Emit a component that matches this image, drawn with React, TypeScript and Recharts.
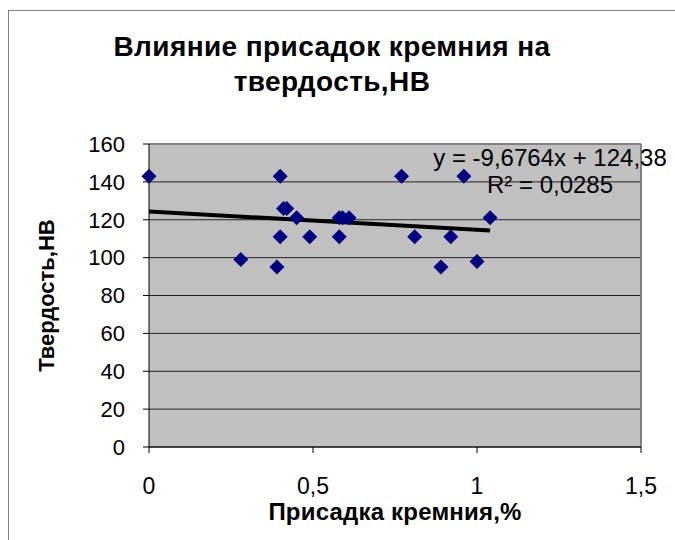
import React from "react";
import {
  CartesianGrid,
  ReferenceLine,
  Scatter,
  ScatterChart,
  XAxis,
  YAxis,
} from "recharts";

// Silicon addition, % and measured Brinell hardness for each sample
const siliconPct = [0, 0.28, 0.39, 0.4, 0.4, 0.41, 0.42, 0.45, 0.49, 0.58, 0.58, 0.59, 0.61, 0.77, 0.81, 0.89, 0.92, 0.96, 1.0, 1.04];
const hardnessHB = [143, 99, 95, 143, 111, 126, 126, 121, 111, 111, 121, 121, 121, 143, 111, 95, 111, 143, 98, 121];

const xTicks = [0, 0.5, 1, 1.5];
const yTicks = [0, 20, 40, 60, 80, 100, 120, 140, 160];

// linear trend as printed on the chart
const trendSlope = -9.6764;
const trendIntercept = 124.38;
const trendR2 = 0.0285;

const titleLines = ["Влияние присадок кремния на", "твердость,НВ"];
const xTitle = "Присадка кремния,%";
const yTitle = "Твердость,НВ";

const FONT = "'Liberation Sans', Arial, sans-serif";

const points = siliconPct.map((x, i) => ({ x, y: hardnessHB[i] }));
const xMax = Math.max(...siliconPct);
const trendStart = { x: 0, y: trendIntercept + trendSlope * 0 };
const trendEnd = { x: xMax, y: trendIntercept + trendSlope * xMax };

const comma = (v: number, digits?: number) =>
  (digits === undefined ? String(v) : v.toFixed(digits)).replace(".", ",");

const Diamond = (props: any) => {
  const { cx, cy } = props;
  const r = 7.5;
  return (
    <polygon
      points={`${cx},${cy - r} ${cx + r},${cy} ${cx},${cy + r} ${cx - r},${cy}`}
      fill="#000080"
    />
  );
};

const App = () => {
  return (
    <div
      style={{
        position: "fixed",
        left: 0,
        top: 0,
        width: 675,
        height: 540,
        overflow: "hidden",
        background: "#fff",
        fontFamily: FONT,
      }}
    >
      <div
        style={{
          position: "absolute",
          left: 8,
          top: 10,
          width: 700,
          height: 600,
          borderLeft: "1px solid #808080",
          borderTop: "1px solid #808080",
        }}
      />
      <div style={{ position: "absolute", left: 0, top: 0 }}>
        <ScatterChart
          width={675}
          height={540}
          margin={{ top: 144, right: 34, bottom: 0, left: 0 }}
        >
          <CartesianGrid vertical={false} fill="#C0C0C0" stroke="#222" />
          <XAxis
            type="number"
            dataKey="x"
            domain={[0, 1.5]}
            ticks={xTicks}
            height={93}
            tickSize={6}
            tickMargin={25}
            tickFormatter={(v: number) => comma(v)}
            axisLine={{ stroke: "#000" }}
            tickLine={{ stroke: "#000" }}
            tick={{ fontSize: 23, fill: "#000", fontFamily: FONT }}
            label={{
              content: ({ viewBox }: any) => (
                <text
                  x={viewBox.x + viewBox.width / 2}
                  y={viewBox.y + 73}
                  textAnchor="middle"
                  fontSize={24}
                  letterSpacing={0.2}
                  fontWeight="bold"
                  fontFamily={FONT}
                  fill="#000"
                >
                  {xTitle}
                </text>
              ),
            }}
          />
          <YAxis
            type="number"
            dataKey="y"
            domain={[0, 160]}
            ticks={yTicks}
            width={149}
            tickSize={6}
            tickMargin={18}
            axisLine={{ stroke: "#000" }}
            tickLine={{ stroke: "#000" }}
            tick={{ fontSize: 22, fill: "#000", fontFamily: FONT }}
            label={{
              content: ({ viewBox }: any) => {
                const cx = viewBox.x + 54;
                const cy = viewBox.y + viewBox.height / 2;
                return (
                  <text
                    x={cx}
                    y={cy}
                    transform={`rotate(-90, ${cx}, ${cy})`}
                    textAnchor="middle"
                    fontSize={22}
                    fontWeight="bold"
                    fontFamily={FONT}
                    fill="#000"
                  >
                    {yTitle}
                  </text>
                );
              },
            }}
          />
          <ReferenceLine y={160} stroke="#808080" strokeWidth={2} />
          <ReferenceLine x={1.5} stroke="#808080" strokeWidth={2} />
          <Scatter data={points} shape={Diamond} isAnimationActive={false} />
          <ReferenceLine
            segment={[trendStart, trendEnd]}
            stroke="#000"
            strokeWidth={4}
          />
        </ScatterChart>
      </div>
      <svg
        width={675}
        height={540}
        style={{ position: "absolute", left: 0, top: 0, pointerEvents: "none" }}
      >
        <g
          fontFamily={FONT}
          fontWeight="bold"
          fontSize={28}
          letterSpacing={0.4}
          fill="#000"
          textAnchor="middle"
        >
          <text x={332} y={56}>{titleLines[0]}</text>
          <text x={332} y={91}>{titleLines[1]}</text>
        </g>
        <g fontFamily={FONT} fontSize={24} fill="#000" textAnchor="middle">
          <text x={550} y={166}>
            {`y = ${comma(trendSlope)}x + ${comma(trendIntercept)}`}
          </text>
          <text x={550} y={193}>{`R² = ${comma(trendR2, 4)}`}</text>
        </g>
      </svg>
    </div>
  );
};

export default App;
